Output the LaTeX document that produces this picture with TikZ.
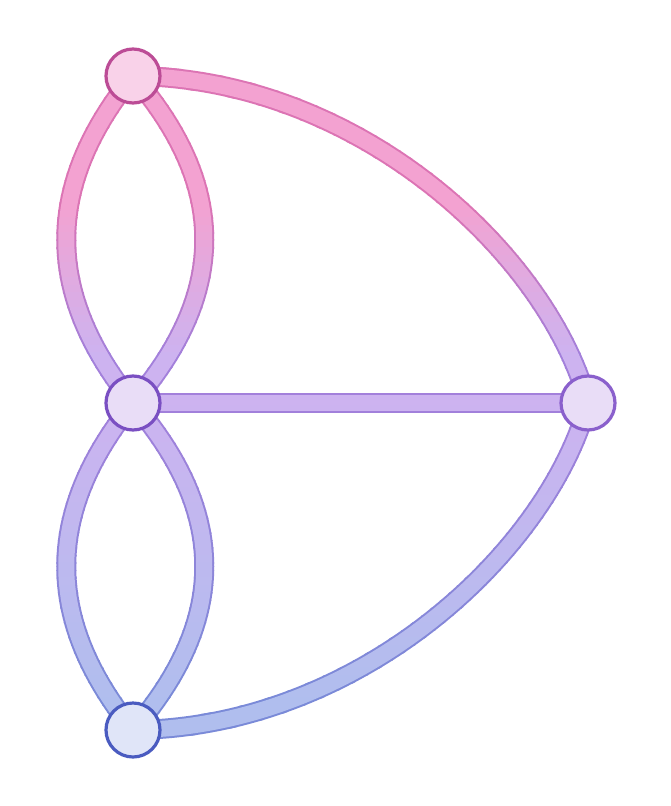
\documentclass[tikz,border=0pt]{standalone}
\usetikzlibrary{calc}
\definecolor{pinkI}{HTML}{F3A2D1}
\definecolor{purpI}{HTML}{CDB3F0}
\definecolor{blueI}{HTML}{B0BEEE}
\definecolor{pinkB}{HTML}{DC74B4}
\definecolor{purpB}{HTML}{A380DB}
\definecolor{blueB}{HTML}{7A8AD8}
\definecolor{nTopF}{HTML}{F9D2E9}
\definecolor{nTopD}{HTML}{BC4C96}
\definecolor{nMidF}{HTML}{E9DDF7}
\definecolor{nMidD}{HTML}{7A4FC2}
\definecolor{nRgtD}{HTML}{8A60CC}
\definecolor{nBotF}{HTML}{E0E5F8}
\definecolor{nBotD}{HTML}{4A5BC0}
\pgfdeclarelayer{bg}
\pgfsetlayers{bg,main}
\tikzset{
  vertex/.style={circle, minimum size=54pt, inner sep=0pt, line width=3.2pt},
}
\newcommand\alledges[1]{%
  \draw[#1] (T.center) .. controls (44,186) and (44,293) .. (M.center);
  \draw[#1] (T.center) .. controls (228,186) and (228,293) .. (M.center);
  \draw[#1] (M.center) .. controls (44,513) and (44,620) .. (B.center);
  \draw[#1] (M.center) .. controls (228,513) and (228,620) .. (B.center);
  \draw[#1] (M.center) -- (R.center);
  \draw[#1] (T.center) .. controls (360,78) and (548,255) .. (R.center);
  \draw[#1] (B.center) .. controls (360,728) and (548,551) .. (R.center);
}
\begin{document}
\begin{tikzpicture}[x=1pt,y=-1pt]
\useasboundingbox (0,0) rectangle (671,806);
\node[vertex, fill=nTopF, draw=nTopD] (T) at (133,76) {};
\node[vertex, fill=nMidF, draw=nMidD] (M) at (133,403) {};
\node[vertex, fill=nMidF, draw=nRgtD] (R) at (588,403) {};
\node[vertex, fill=nBotF, draw=nBotD] (B) at (133,730) {};
\begin{pgfonlayer}{bg}
\fill[white] (0,0) rectangle (671,806);
\foreach \k in {0,...,99}{
  \pgfmathsetmacro\ya{30+\k*7.5}
  \pgfmathsetmacro\yb{\ya+8.1}
  \pgfmathsetmacro\yc{\ya+3.75}
  \ifdim\yc pt<403pt
    \pgfmathsetmacro\s{max(0,min(100,(\yc-205)/1.5))}
    \colorlet{ci}{purpI!\s!pinkI}\colorlet{cb}{purpB!\s!pinkB}
  \else
    \pgfmathsetmacro\t{max(0,min(100,(\yc-403)/3.0))}
    \colorlet{ci}{blueI!\t!purpI}\colorlet{cb}{blueB!\t!purpB}
  \fi
  \begin{scope}
    \clip (0,\ya) rectangle (671,\yb);
    \alledges{line width=20pt, draw=cb}
    \alledges{line width=16pt, draw=ci}
  \end{scope}
}
\end{pgfonlayer}
\end{tikzpicture}
\end{document}
